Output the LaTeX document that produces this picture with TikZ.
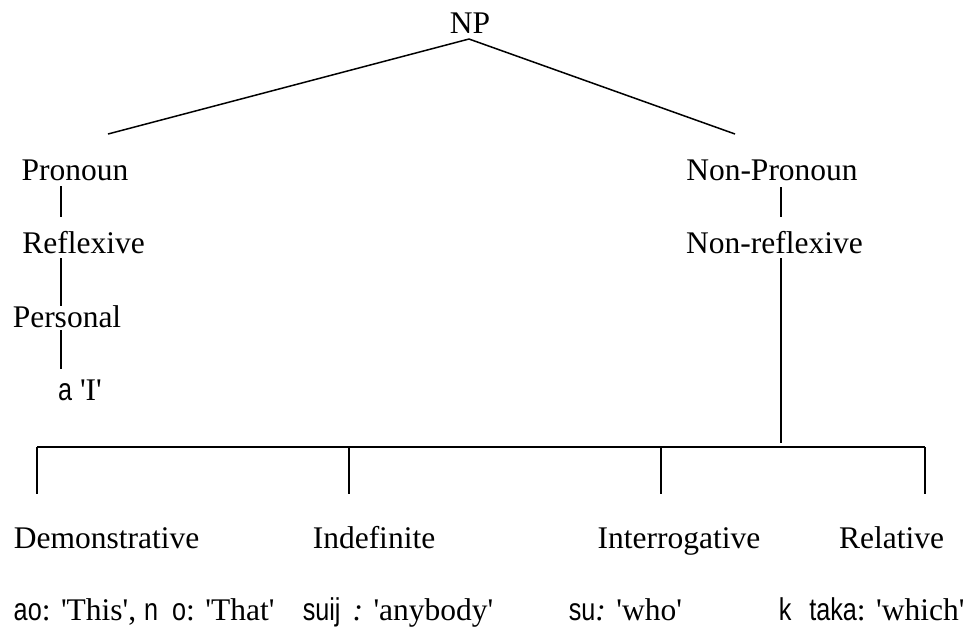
\documentclass[tikz,border=0pt]{standalone}
\usepackage{fontspec}
\setmainfont{Liberation Serif}
\newfontfamily\phon[FakeStretch=0.8]{Liberation Sans}
\newcommand{\sq}{\textquotesingle}
\usetikzlibrary{calc}

\begin{document}
\begin{tikzpicture}[x=0.5pt, y=-0.5pt, line width=0.75pt,
    font=\fontsize{15.75}{18}\selectfont]

    \tikzset{category/.style={anchor=base, inner sep=0pt},
             example/.style={anchor=base west, inner sep=0pt}}

    \useasboundingbox (0,0) rectangle (963,629);

    % Columnas

    \coordinate (leftSpine) at (61,0);
    \coordinate (rightSpine) at (781,0);
    \coordinate (barLeft) at (37,447);
    \coordinate (barRight) at (925,447);

    % Nodos

    \node[category] (np) at (470,33) {NP};
    \node[category] (pronoun) at (75,180) {Pronoun};
    \node[category] (reflexive) at (83.5,253) {Reflexive};
    \node[category] (personal) at (67,327) {Personal};
    \node[category] (pronI) at (80,400) {{\phon a} \sq I\sq};
    \node[category] (nonpronoun) at (772,180) {Non-Pronoun};
    \node[category] (nonreflexive) at (774.5,253) {Non-reflexive};

    \node[category] (demonstrative) at (106.5,548) {Demonstrative};
    \node[category] (indefinite) at (374,548) {Indefinite};
    \node[category] (interrogative) at (679,548) {Interrogative};
    \node[category] (relative) at (891.5,548) {Relative};

    \node[example] (exDem) at (13,620)
        {{\phon ao}: \sq This\sq, {\phon n}\hspace{7pt}{\phon o}: \sq That\sq};
    \node[example] (exIndef) at (302,620)
        {{\phon suij}\hspace{6pt}\textit{:} \sq anybody\sq};
    \node[example] (exInter) at (568,620) {{\phon su}\textit{:} \sq who\sq};
    \node[example] (exRel) at (778,620)
        {{\phon k}\hspace{9pt}{\phon taka}: \sq which\sq};

    % Ramas

    \coordinate (npFoot) at ($(np.base)+(-1,6)$);
    \draw (npFoot) -- ($(pronoun.base)+(33,-46)$);
    \draw (npFoot) -- ($(nonpronoun.base)+(-37,-46)$);

    \draw ($(pronoun.base -| leftSpine)+(0,6)$) -- ($(reflexive.base -| leftSpine)+(0,-36)$);
    \draw ($(reflexive.base -| leftSpine)+(0,5)$) -- ($(personal.base -| leftSpine)+(0,-21)$);
    \draw ($(personal.base -| leftSpine)+(0,3)$) -- ($(pronI.base -| leftSpine)+(0,-31)$);

    \draw ($(nonpronoun.base -| rightSpine)+(0,7)$) -- ($(nonreflexive.base -| rightSpine)+(0,-36)$);
    \draw ($(nonreflexive.base -| rightSpine)+(0,5)$) -- ($(barLeft -| rightSpine)+(0,-4)$);

    \draw (barLeft) -- (barRight);

    \foreach \cat/\x in {demonstrative/37, indefinite/349, interrogative/661, relative/925} {
        \coordinate (drop) at (\x,447);
        \draw (drop) -- ($(drop |- \cat.base)+(0,-54)$);
    }

\end{tikzpicture}
\end{document}
